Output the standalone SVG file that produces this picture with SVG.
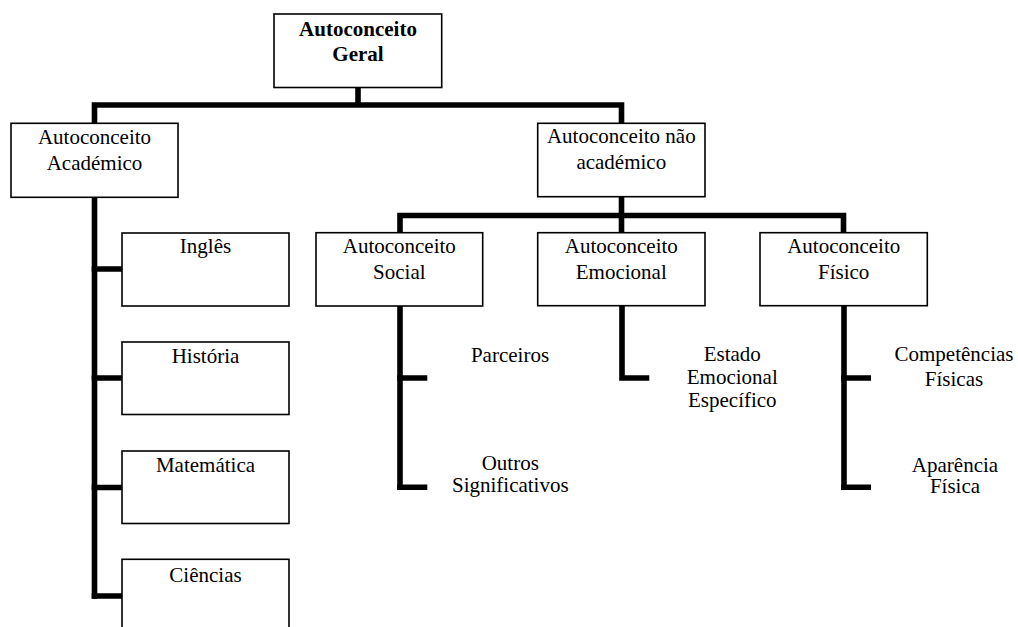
<svg xmlns="http://www.w3.org/2000/svg" width="1018" height="627" viewBox="0 0 1018 627">
<style>
.box{fill:#fff;stroke:#000;stroke-width:1.6}
text{font-family:'Liberation Serif','Times New Roman',Tinos,'DejaVu Serif',serif;font-size:21px;fill:#000;text-anchor:middle}
.b{font-weight:bold}
.c{fill:none;stroke:#000;stroke-width:5.6;stroke-linejoin:miter;stroke-linecap:butt}
</style>
<rect width="1018" height="627" fill="#fff"/>
<g id="connectors">
<path class="c" d="M358 87 V105"/>
<path class="c" d="M94.5 123 V105 H621.5 V123"/>
<path class="c" d="M94.5 197 V598.8"/>
<path class="c" d="M91.7 269 H122 M91.7 378 H122 M91.7 487.5 H122 M91.7 596 H122"/>
<path class="c" d="M621.5 197 V233"/>
<path class="c" d="M400 233 V215.5 H843.5 V233"/>
<path class="c" d="M400 306 V490"/>
<path class="c" d="M397.2 378 H427.3 M397.2 487.2 H427.3"/>
<path class="c" d="M622 306 V378 H649.3"/>
<path class="c" d="M844 306 V490"/>
<path class="c" d="M841.2 378 H871 M841.2 487.2 H871"/>
</g>
<g id="n-geral"><rect class="box" x="274" y="14" width="167.7" height="73.5"/><text class="b" x="358" y="35.7" font-family="Liberation Serif, serif">Autoconceito</text><text class="b" x="358" y="61" font-family="Liberation Serif, serif">Geral</text></g>
<g id="n-academico"><rect class="box" x="11" y="123.3" width="167" height="74"/><text x="94.5" y="144">Autoconceito</text><text x="94.5" y="170">Académico</text></g>
<g id="n-nao-academico"><rect class="box" x="537.7" y="123.3" width="167.3" height="73.4"/><text x="621.3" y="143.3">Autoconceito não</text><text x="621.3" y="169.3">académico</text></g>
<g id="n-social"><rect class="box" x="316" y="232.7" width="166.7" height="73.3"/><text x="399.3" y="253.3">Autoconceito</text><text x="399.3" y="279">Social</text></g>
<g id="n-emocional"><rect class="box" x="537.7" y="232.7" width="167.3" height="73"/><text x="621.3" y="253.3">Autoconceito</text><text x="621.3" y="279.3">Emocional</text></g>
<g id="n-fisico"><rect class="box" x="760" y="232.7" width="167.3" height="73"/><text x="843.7" y="253.3">Autoconceito</text><text x="843.7" y="279.3">Físico</text></g>
<g id="n-ingles"><rect class="box" x="122" y="233" width="167" height="73"/><text x="205.5" y="253.3">Inglês</text></g>
<g id="n-historia"><rect class="box" x="122" y="342" width="167" height="72.5"/><text x="205.5" y="363.3">História</text></g>
<g id="n-matematica"><rect class="box" x="122" y="451" width="167" height="72.5"/><text x="205.5" y="471.7">Matemática</text></g>
<g id="n-ciencias"><rect class="box" x="122" y="559.3" width="167" height="80"/><text x="205.5" y="581.7">Ciências</text></g>
<g id="n-parceiros"><text x="510" y="361.7">Parceiros</text></g>
<g id="n-outros"><text x="510.3" y="470">Outros</text><text x="510.3" y="492">Significativos</text></g>
<g id="n-estado"><text x="732.3" y="360.7">Estado</text><text x="732.3" y="383.5">Emocional</text><text x="732.3" y="406.7">Específico</text></g>
<g id="n-competencias"><text x="954" y="360.7">Competências</text><text x="954" y="386">Físicas</text></g>
<g id="n-aparencia"><text x="955" y="471.7">Aparência</text><text x="955" y="493.3">Física</text></g>
</svg>
